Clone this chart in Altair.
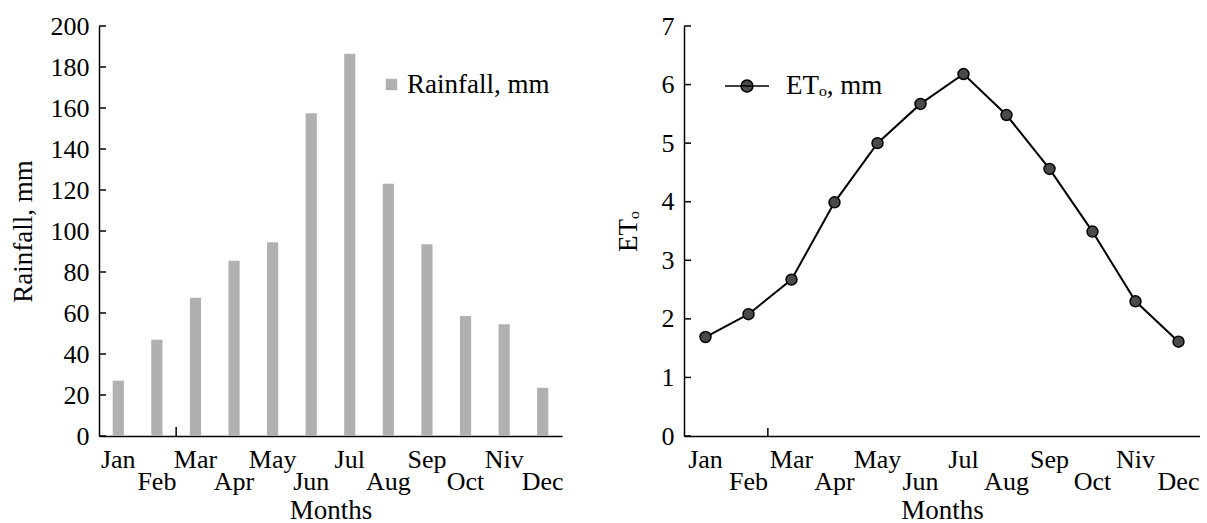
import altair as alt
import pandas as pd

months = ['Jan', 'Feb', 'Mar', 'Apr', 'May', 'Jun', 'Jul', 'Aug', 'Sep', 'Oct', 'Niv', 'Dec']
rainfall = [27, 47, 67.5, 85.5, 94.5, 157.5, 186.5, 123, 93.5, 58.5, 54.5, 23.5]
eto = [1.69, 2.08, 2.67, 3.99, 5.0, 5.67, 6.18, 5.48, 4.56, 3.49, 2.3, 1.61]
rain_ticks = [0, 20, 40, 60, 80, 100, 120, 140, 160, 180, 200]
eto_ticks = [0, 1, 2, 3, 4, 5, 6, 7]
lower_row = ['Feb', 'Apr', 'Jun', 'Aug', 'Oct', 'Dec']
stray_tick = ['Feb']

FONT = 'Liberation Serif'
H = 410
W1 = 463
W2 = 516

rain_df = pd.DataFrame({'month': months, 'rain': rainfall})
eto_df = pd.DataFrame({'month': months, 'eto': eto})
rain_tick_df = pd.DataFrame({'v': rain_ticks})
eto_tick_df = pd.DataFrame({'v': eto_ticks})
stray_df = pd.DataFrame({'month': stray_tick})

label_expr = ("indexof(" + str(lower_row) + ", datum.label) >= 0 ? ['', datum.label] : datum.label")

def x_axis():
    return alt.Axis(title='Months', labelAngle=0, ticks=False, tickSize=0,
                    labelPadding=10, labelBaseline='top', labelLineHeight=22,
                    labelExpr=label_expr, titlePadding=3)

xscale = alt.Scale(type='band', paddingInner=0, paddingOuter=0)

# Left chart
bars = alt.Chart(rain_df).transform_calculate(series="'Rainfall, mm'").mark_bar(
    width={'band': 0.29}).encode(
    x=alt.X('month:N', sort=months, scale=xscale, axis=x_axis()),
    y=alt.Y('rain:Q', scale=alt.Scale(domain=[0, 200], nice=False),
            axis=alt.Axis(values=rain_ticks, ticks=False, tickSize=0, labelPadding=10,
                          title='Rainfall, mm', titlePadding=13)),
    color=alt.Color('series:N', scale=alt.Scale(domain=['Rainfall, mm'], range=['#b0b0b0']),
                    legend=alt.Legend(title=None, orient='none', legendX=279, legendY=45,
                                      symbolType='square', symbolSize=130, symbolStrokeWidth=0,
                                      labelFont=FONT, labelFontSize=27, labelColor='black',
                                      labelOffset=2, padding=0))
)
rain_ticks_layer = alt.Chart(rain_tick_df).mark_rule(color='black', strokeWidth=1.5).encode(
    y=alt.Y('v:Q'), x=alt.value(0), x2=alt.value(7))
stray1 = alt.Chart(stray_df).mark_rule(color='black', strokeWidth=1.5).encode(
    x=alt.X('month:N', sort=months, bandPosition=1), y=alt.value(H - 9), y2=alt.value(H))
left = alt.layer(bars, rain_ticks_layer, stray1).properties(width=W1, height=H)

# Right chart
line = alt.Chart(eto_df).mark_line(color='black', strokeWidth=2).encode(
    x=alt.X('month:N', sort=months, scale=xscale, axis=x_axis()),
    y=alt.Y('eto:Q', scale=alt.Scale(domain=[0, 7], nice=False),
            axis=alt.Axis(values=eto_ticks, format='d', ticks=False, tickSize=0, labelPadding=10,
                          title='ETₒ', titlePadding=19)))
pts = alt.Chart(eto_df).transform_calculate(series="'ETₒ, mm'").mark_point(
    filled=True, size=120, stroke='black', strokeWidth=1.5, opacity=1).encode(
    x=alt.X('month:N', sort=months),
    y=alt.Y('eto:Q'),
    fill=alt.Fill('series:N', scale=alt.Scale(domain=['ETₒ, mm'], range=['#4a4a4a']),
                  legend=alt.Legend(title=None, orient='none', legendX=40, legendY=37,
                                    symbolType='M-1,0H1M0.27,0A0.27,0.27,0,1,1,-0.27,0A0.27,0.27,0,1,1,0.27,0Z',
                                    symbolSize=1936, symbolStrokeColor='black', symbolStrokeWidth=1.5,
                                    symbolOpacity=1,
                                    labelFont=FONT, labelFontSize=27, labelColor='black',
                                    labelOffset=16, padding=0))
)
eto_ticks_layer = alt.Chart(eto_tick_df).mark_rule(color='black', strokeWidth=1.5).encode(
    y=alt.Y('v:Q'), x=alt.value(0), x2=alt.value(7))
stray2 = alt.Chart(stray_df).mark_rule(color='black', strokeWidth=1.5).encode(
    x=alt.X('month:N', sort=months, bandPosition=0.95), y=alt.value(H - 8), y2=alt.value(H))
right = alt.layer(line, pts, eto_ticks_layer, stray2).properties(width=W2, height=H)

chart = alt.hconcat(left, right, spacing=50).resolve_scale(color='independent', fill='independent').properties(
    padding={'left': 9, 'top': 13, 'right': 0, 'bottom': 0},
    background='white'
).configure_axis(
    labelFont=FONT, titleFont=FONT, labelFontSize=26, titleFontSize=27,
    labelColor='black', titleColor='black', domainColor='black', domainWidth=1.5,
    grid=False, titleFontWeight='normal'
).configure_view(stroke=None)

chart.save('out.html', embed_options={'renderer': 'svg', 'actions': False})
